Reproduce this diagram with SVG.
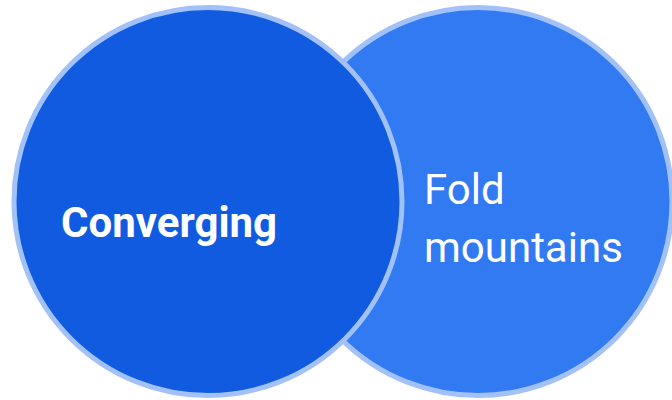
<svg xmlns="http://www.w3.org/2000/svg" width="672" height="400" viewBox="0 0 672 400">
<style>
.set{stroke:#A2C1F9;stroke-width:5}
.lbl{fill:#FFFFFF;font-family:Roboto,"Liberation Sans",sans-serif;font-size:42px}
</style>
<rect width="672" height="400" fill="#FFFFFF"/>
<g id="node-fold">
<circle class="set" cx="478" cy="201.5" r="194" fill="#327AF1"/>
<text class="lbl" x="424" y="204">Fold</text>
<text class="lbl" x="424" y="262">mountains</text>
</g>
<g id="node-converging">
<circle class="set" cx="208" cy="201.5" r="194" fill="#105BDF"/>
<text class="lbl" x="61" y="237" font-weight="bold">Converging</text>
</g>
<g id="connectors"></g>
</svg>
